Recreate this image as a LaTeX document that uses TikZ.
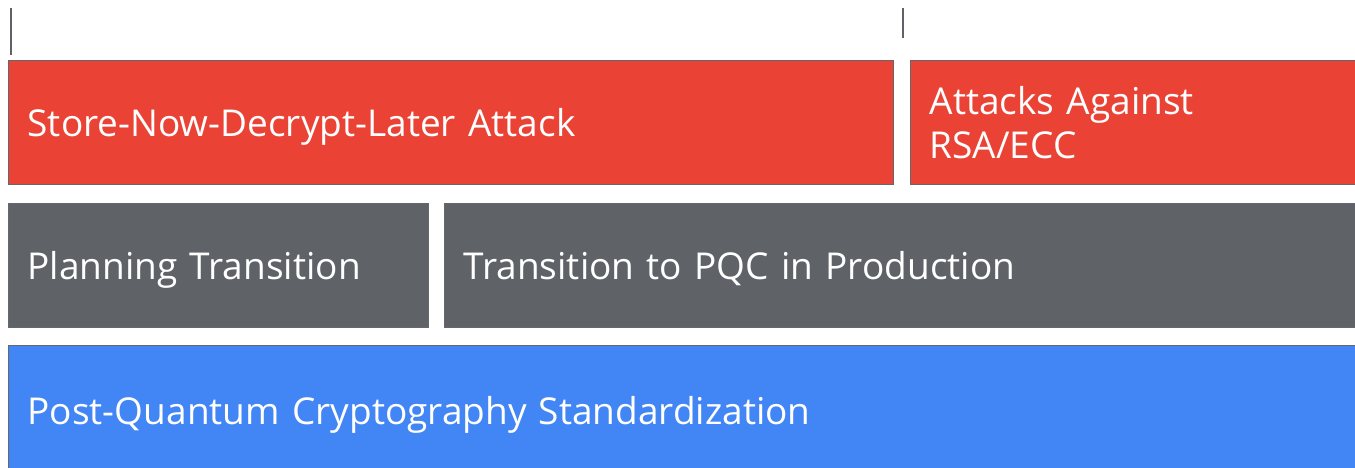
\documentclass[tikz,border=0pt]{standalone}
\usepackage{fontspec}
\setmainfont{Open Sans}
\definecolor{gred}{RGB}{234,67,53}
\definecolor{ggray}{RGB}{95,99,104}
\definecolor{gblue}{RGB}{66,133,244}
\definecolor{gedge}{RGB}{100,104,108}
\usetikzlibrary{positioning}

\begin{document}
\begin{tikzpicture}[
  x=1pt,y=-1pt,
  blockbox/.style={draw=gedge,line width=1.3pt,anchor=north west,inner xsep=19pt,inner ysep=0pt,
                   minimum height=124pt,align=left,text=white,text depth=0pt,
                   font=\fontsize{37}{44}\selectfont},
  tick/.style={draw=ggray,line width=2pt},
]
  \clip (0,0) rectangle (1355,467);

  % Time ticks
  \coordinate (tickA top) at (10.5,8);
  \coordinate (tickA bot) at (10.5,55);
  \coordinate (tickB top) at (903,8);
  \coordinate (tickB bot) at (903,38);
  \draw[tick] (tickA top) -- (tickA bot);
  \draw[tick] (tickB top) -- (tickB bot);

  % Top row: threats
  \node[blockbox,fill=gred,text width=847pt] (sndl) at (8,60)
    {Store-Now-Decrypt-Later Attack};
  \node[blockbox,fill=gred,text width=460pt,text depth={}] (rsa) at (910,60)
    {Attacks Against\\RSA/ECC};

  % Middle row: transition
  \node[blockbox,fill=ggray,text width=382pt] (plan) at (8,203)
    {Planning Transition};
  \node[blockbox,fill=ggray,text width=920pt] (prod) at (444,203)
    {Transition to PQC in Production};

  % Bottom row: standards
  \node[blockbox,fill=gblue,text width=1360pt,minimum height=130pt] (pqc) at (8,345)
    {Post-Quantum Cryptography Standardization};
\end{tikzpicture}
\end{document}
